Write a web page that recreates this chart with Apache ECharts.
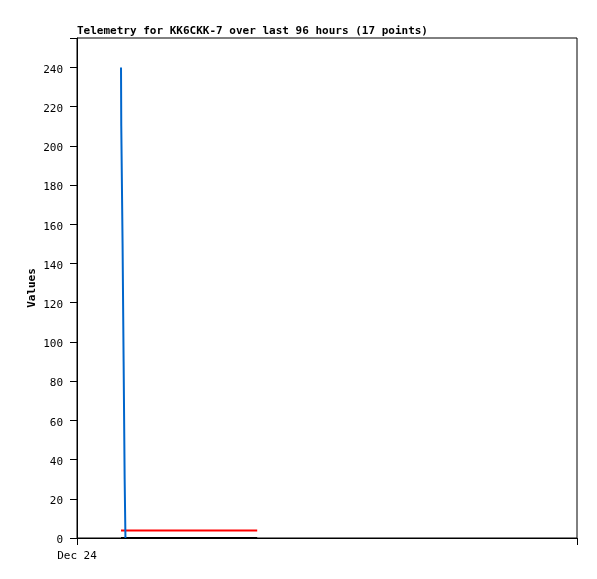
<!DOCTYPE html>
<html>
<head>
<meta charset="utf-8">
<script src="https://cdn.jsdelivr.net/npm/echarts@6/dist/echarts.min.js"></script>
<style>
  html, body { margin: 0; padding: 0; background: #fff; }
  #chart { width: 597px; height: 579px; }
</style>
</head>
<body>
<div id="chart"></div>
<script>
// hours since Dec 24 00:00 (x axis spans 96 hours)
const blueHours = [8.45, 8.5, 8.55, 8.75, 8.8, 8.95, 9.0, 9.15, 9.2, 9.3]
const blueValues = [240, 210, 210, 150, 150, 90, 90, 30, 30, 0]
const redHours = [8.45, 34.6]
const redValues = [3.8, 3.8]
const blackHours = [8.45, 34.6]
const blackValues = [0, 0]
const yTicks = [0, 20, 40, 60, 80, 100, 120, 140, 160, 180, 200, 220, 240]
const xLabel = 'Dec 24'

const font = 'DejaVu Sans Mono'
const pairs = (xs, ys) => xs.map((x, i) => [x, ys[i]])

const chart = echarts.init(document.getElementById('chart'))
chart.setOption({
  animation: false,
  backgroundColor: '#fff',
  title: {
    text: 'Telemetry for KK6CKK-7 over last 96 hours (17 points)',
    left: 77,
    top: 26,
    padding: 0,
    textStyle: { fontFamily: font, fontSize: 11, fontWeight: 'bold', color: '#000' }
  },
  grid: {
    left: 77,
    top: 38,
    right: 20,
    bottom: 41,
    show: true,
    borderColor: '#000',
    borderWidth: 1
  },
  xAxis: {
    type: 'value',
    min: 0,
    max: 96,
    interval: 96,
    splitLine: { show: false },
    axisLine: { lineStyle: { color: '#000' } },
    axisTick: { length: 7, lineStyle: { color: '#000' } },
    axisLabel: {
      margin: 13,
      fontFamily: font,
      fontSize: 11,
      color: '#000',
      formatter: v => (v === 0 ? xLabel : '')
    }
  },
  yAxis: {
    type: 'value',
    min: 0,
    max: 255,
    interval: 20,
    name: 'Values',
    nameLocation: 'middle',
    nameGap: 39,
    nameMoveOverlap: false,
    nameTextStyle: { fontFamily: font, fontSize: 11, fontWeight: 'bold', color: '#000' },
    splitLine: { show: false },
    axisLine: { show: true, lineStyle: { color: '#000' } },
    axisTick: { show: true, length: 7, lineStyle: { color: '#000' } },
    axisLabel: {
      margin: 14,
      verticalAlign: 'top',
      lineHeight: 11,
      padding: [-3, 0, 0, 0],
      fontFamily: font,
      fontSize: 11,
      color: '#000',
      formatter: v => (yTicks.indexOf(v) >= 0 ? String(v) : '')
    }
  },
  series: [
    {
      type: 'line',
      data: pairs(blackHours, blackValues),
      showSymbol: false,
      lineStyle: { color: '#000', width: 2 },
      z: 3
    },
    {
      type: 'line',
      data: pairs(redHours, redValues),
      showSymbol: false,
      lineStyle: { color: '#ff0000', width: 2 },
      z: 4
    },
    {
      type: 'line',
      data: pairs(blueHours, blueValues),
      showSymbol: false,
      lineStyle: { color: '#0066cc', width: 2 },
      z: 5
    }
  ]
})
</script>
</body>
</html>
